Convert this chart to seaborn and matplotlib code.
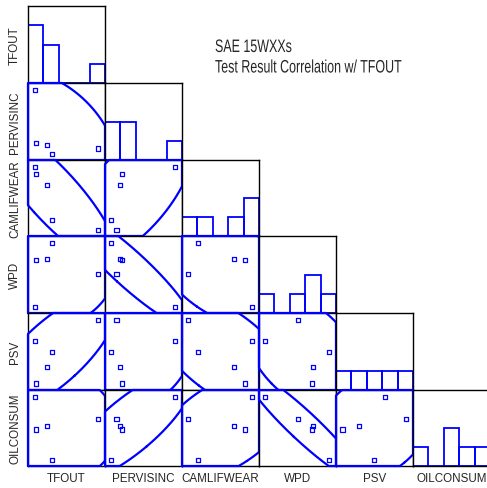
import numpy as np
import pandas as pd
import matplotlib
matplotlib.use("Agg")
import matplotlib.pyplot as plt
import seaborn as sns
from matplotlib.patheffects import AbstractPathEffect
from matplotlib.transforms import Affine2D

# ---------------- data (positions read within each variable's axis range 0-100) ----
variables = ["TFOUT", "PERVISINC", "CAMLIFWEAR", "WPD", "PSV", "OILCONSUM"]
tfout      = [9.0, 10.5, 24.5, 31.0, 91.0, 12.0]
pervisinc  = [91.0, 22.0, 20.0, 8.0, 15.0, np.nan]
camlifwear = [91.0, 82.0, 67.0, 21.0, 8.0, np.nan]
wpd        = [8.0, 69.0, 70.5, 91.0, 51.0, np.nan]
psv        = [64.0, 8.5, 30.0, 49.0, 91.0, np.nan]
oilconsum  = [91.0, 48.0, 53.0, 8.0, 62.0, np.nan]
title_lines = ["SAE 15WXXs", "Test Result Correlation w/ TFOUT"]

df = pd.DataFrame({"TFOUT": tfout, "PERVISINC": pervisinc, "CAMLIFWEAR": camlifwear,
                   "WPD": wpd, "PSV": psv, "OILCONSUM": oilconsum})

# ---------------- style ----------------
sns.set_style("white")
plt.rcParams["font.family"] = ["Liberation Sans", "DejaVu Sans"]
BLUE = "#0000ff"

W, H = 487, 489
fig = plt.figure(figsize=(W / 100, H / 100), dpi=100)

LO, HI = 0.0, 100.0
bins = np.linspace(LO, HI, 6)
chi2_95 = 5.991


class HSqueeze(AbstractPathEffect):
    """Draw text glyphs horizontally condensed about a display x anchor."""

    def __init__(self, sx, x0):
        super().__init__()
        self.sx, self.x0 = sx, x0

    def draw_path(self, renderer, gc, tpath, affine, rgbFace=None):
        aff = affine + Affine2D().translate(-self.x0, 0).scale(self.sx, 1).translate(self.x0, 0)
        renderer.draw_path(gc, tpath, aff, rgbFace)


def clip_polygon(pts, xmin, xmax, ymin, ymax):
    def clip(poly, inside, inter):
        out = []
        for i in range(len(poly)):
            cur, prev = poly[i], poly[i - 1]
            if inside(cur):
                if not inside(prev):
                    out.append(inter(prev, cur))
                out.append(cur)
            elif inside(prev):
                out.append(inter(prev, cur))
        return out

    def ix(xv):
        return lambda p, c: (xv, p[1] + (xv - p[0]) * (c[1] - p[1]) / (c[0] - p[0]))

    def iy(yv):
        return lambda p, c: (p[0] + (yv - p[1]) * (c[0] - p[0]) / (c[1] - p[1]), yv)

    poly = list(pts)
    poly = clip(poly, lambda p: p[0] >= xmin, ix(xmin))
    if poly:
        poly = clip(poly, lambda p: p[0] <= xmax, ix(xmax))
    if poly:
        poly = clip(poly, lambda p: p[1] >= ymin, iy(ymin))
    if poly:
        poly = clip(poly, lambda p: p[1] <= ymax, iy(ymax))
    return poly


left0, cw = 28, 77
tops = [7, 84, 161, 237, 314, 391, 467]

n = len(variables)
for i in range(n):
    for j in range(i + 1):
        top, bot = tops[i], tops[i + 1]
        ax = fig.add_axes([(left0 + cw * j) / W, 1 - bot / H, cw / W, (bot - top) / H])
        xv, yv = variables[j], variables[i]
        if i == j:
            sns.histplot(x=df[xv].dropna(), bins=bins, ax=ax, fill=False,
                         color=BLUE, linewidth=1.3, element="bars")
            ax.set_ylim(0, 4)
        else:
            sub = df[[xv, yv]].dropna()
            sns.scatterplot(x=sub[xv], y=sub[yv], ax=ax, marker="s", s=9,
                            facecolor="none", edgecolor=BLUE, linewidth=0.9)
            ax.set_ylim(LO, HI)
            mu = sub.mean().values
            cov = np.cov(sub.values.T)
            vals, vecs = np.linalg.eigh(cov)
            t = np.linspace(0, 2 * np.pi, 721)[:-1]
            circ = np.vstack([np.cos(t), np.sin(t)]) * np.sqrt(vals[:, None] * chi2_95)
            ell = (vecs @ circ).T + mu
            poly = clip_polygon([tuple(p) for p in ell], LO, HI, LO, HI)
            if poly:
                px = [p[0] for p in poly] + [poly[0][0]]
                py = [p[1] for p in poly] + [poly[0][1]]
                ax.plot(px, py, color=BLUE, lw=1.6, clip_on=False, zorder=4)
        ax.set_xlim(LO, HI)
        ax.set_xticks([])
        ax.set_yticks([])
        ax.set_xlabel("")
        ax.set_ylabel("")
        for sp in ax.spines.values():
            sp.set_visible(True)
            sp.set_color("black")
            sp.set_linewidth(1.0)
        if i == n - 1:
            ax.set_xlabel(variables[j], fontsize=8.4, labelpad=4.5)
        if j == 0:
            ax.set_ylabel(variables[i], fontsize=8.4, labelpad=5)

title_x = 215
squeeze = [HSqueeze(0.69, title_x)]
fig.text(title_x / W, 1 - 53 / H, title_lines[0], fontsize=13, family="Liberation Sans",
         ha="left", va="baseline", path_effects=squeeze)
fig.text(title_x / W, 1 - 73.5 / H, title_lines[1], fontsize=13, family="Liberation Sans",
         ha="left", va="baseline", path_effects=squeeze)

fig.savefig("out.png", dpi=100)
